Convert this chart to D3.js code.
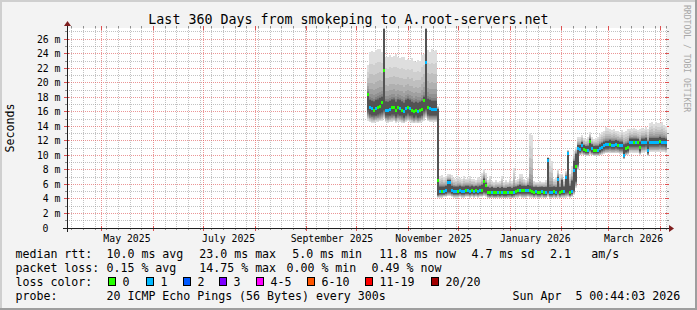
<!DOCTYPE html>
<html>
<head>
<meta charset="utf-8">
<script src="https://cdn.jsdelivr.net/npm/d3@7"></script>
<style>
  html, body { margin: 0; padding: 0; background: #f3f3f3; }
  svg { display: block; font-family: "DejaVu Sans Mono", monospace; }
  text { white-space: pre; }
</style>
</head>
<body>
<script>
// ---- data (ms), one value per 1.2 day step from 180 days before the end ----
const medRtt = [
  18.4,16.6,16.5,16.3,16.5,16.6,16.8,17.4,21.8,16.3, 16.3,16.4,16.6,16.6,16.2,16.6,16.5,16.3,16.1,16.5,
  16.7,16.5,16.3,16.1,16.3,16.1,16.2,16.4,17.6,22.9, 16.6,16.5,16.4,16.4,16.4,
  6.6,5.1,5.1,5.1,5.2, 6.4,6.4,5.2,5.1,5.1,5.1,5.2,5.1,5.1,5.2, 5.2,5.1,5.2,5.1,5.2,5.1,5.2,5.3,6.5,5.9,
  5.0,4.9,5.0,4.9,4.9,5.0,4.9,5.0,4.9,4.9, 5.0,5.0,4.9,5.0,5.1,5.2,5.3,5.2,5.2,5.2,
  5.3,5.2,5.1,5.0,5.1,5.0,5.0,5.1,5.0,5.0,
  9.4,5.0,5.0,5.1,5.0,6.8,5.0,5.1,5.1,7.0, 10.4,5.0,5.1,8.0,8.5,11.0,10.9,11.4,10.9,10.8,
  10.8,12.0,11.0,10.8,10.8,10.8,11.0,
  11.2,11.4,11.55,11.55,11.6,11.5,11.5,11.6,11.5,11.4, 11.4,10.0,11.0,11.1,11.8,11.8,11.8,11.8,11.8,11.1,
  11.8,11.8,11.9,10.7,11.9,11.9,11.9,11.9,11.9,12.0, 11.9,11.9,11.8
];
const lossCount = [
  0,1,1,0,1,0,0,0,0,1, 1,1,0,0,0,0,1,0,1,1, 0,1,0,0,0,1,0,0,0,1, 0,1,1,1,1,
  0,1,0,1,1, 1,1,1,1,1,0,1,1,1,0, 1,1,0,1,0,1,1,0,0,0, 0,0,1,0,0,1,0,1,0,0, 1,0,0,1,0,0,1,0,0,1,
  1,0,0,0,1,0,0,1,0,1,
  1,1,1,0,1,1,0,0,1,1, 1,0,1,1,0,1,1,1,0,0, 1,0,1,0,0,1,1,
  1,1,1,1,0,1,1,1,0,1, 1,1,0,0,1,1,0,1,0,0, 1,1,1,1,1,1,1,1,1,0, 1,1,1
];
const pingMin = [
  14.8,14.6,14.5,14.5,14.6,14.6,14.7,14.8,15.0,14.6, 14.5,14.6,14.6,14.7,14.5,14.6,14.6,14.5,14.4,14.6,
  14.7,14.6,14.5,14.4,14.5,14.4,14.5,14.6,14.8,15.2, 14.7,14.6,14.6,14.6,14.6,
  4.2,4.2,4.2,4.3,4.3, 4.4,4.4,4.3,4.2,4.2,4.2,4.3,4.2,4.2,4.3, 4.3,4.2,4.3,4.2,4.3,4.2,4.3,4.3,4.4,4.3,
  4.1,4.1,4.1,4.1,4.1,4.1,4.1,4.1,4.1,4.1, 4.1,4.1,4.1,4.1,4.2,4.2,4.3,4.2,4.2,4.2,
  4.3,4.2,4.2,4.1,4.2,4.1,4.1,4.2,4.1,4.1,
  4.3,4.1,4.1,4.2,4.1,4.2,4.1,4.2,4.2,4.2, 4.3,4.2,4.3,4.6,5.5,8.0,10.0,10.1,10.0,9.9,
  9.9,10.1,10.0,9.9,9.9,9.9,10.0,
  10.1,10.2,10.3,10.3,10.3,10.3,10.3,10.3,10.3,10.2, 10.2,9.5,10.0,10.1,10.4,10.4,10.4,10.4,10.4,10.1,
  10.4,10.4,10.5,9.9,10.5,10.5,10.5,10.5,10.5,10.5, 10.5,10.5,10.4
];
const pingLow = [
  16.2,15.7,15.6,15.5,15.6,15.7,15.8,16.0,16.3,15.5, 15.5,15.6,15.7,15.7,15.4,15.7,15.6,15.5,15.3,15.6,
  15.8,15.6,15.5,15.3,15.5,15.3,15.4,15.6,16.1,16.4, 15.7,15.6,15.6,15.6,15.6,
  4.6,4.7,4.7,4.7,4.8, 5.0,5.0,4.8,4.7,4.7,4.7,4.8,4.7,4.7,4.8, 4.8,4.7,4.8,4.7,4.8,4.7,4.8,4.8,5.0,4.9,
  4.6,4.5,4.6,4.5,4.5,4.6,4.5,4.6,4.5,4.5, 4.6,4.6,4.5,4.6,4.7,4.8,4.8,4.8,4.8,4.8,
  4.8,4.8,4.7,4.6,4.7,4.6,4.6,4.7,4.6,4.6,
  4.9,4.6,4.6,4.7,4.6,4.9,4.6,4.7,4.7,4.9, 4.9,4.6,4.8,5.2,6.5,8.8,10.5,10.7,10.5,10.4,
  10.4,10.8,10.5,10.4,10.4,10.4,10.5,
  10.7,10.9,11.0,11.0,11.1,11.0,11.0,11.1,11.0,10.9, 10.9,9.8,10.5,10.6,11.3,11.3,11.3,11.3,11.3,10.6,
  11.3,11.3,11.4,10.4,11.4,11.4,11.4,11.4,11.4,11.5, 11.4,11.4,11.3
];
const pingHigh = [
  18.6,17.6,17.5,17.4,17.6,17.7,17.9,18.0,27.4,17.4, 17.4,17.5,17.7,17.7,17.3,17.7,17.6,17.4,17.2,17.6,
  17.8,17.6,17.4,17.2,17.4,17.2,17.3,17.5,18.0,27.4, 17.8,17.6,17.5,17.5,17.5,
  16.4,5.7,5.7,5.7,5.8, 6.6,6.6,5.8,5.7,5.7,5.7,5.8,5.7,5.7,5.8, 5.8,5.7,5.8,5.7,5.8,5.7,5.8,5.9,6.8,6.2,
  5.6,5.5,5.6,5.5,5.5,5.6,5.5,5.6,5.5,5.5, 5.6,5.6,5.5,5.6,5.7,5.8,5.9,5.8,5.8,5.8,
  5.9,5.8,5.7,5.6,5.7,5.6,5.6,5.7,5.6,5.6,
  9.6,5.6,5.6,5.7,5.6,7.0,5.6,6.6,5.7,7.2, 10.5,5.8,6.5,9.2,10.2,11.4,11.4,11.8,11.4,11.3,
  11.3,12.3,11.5,11.3,11.3,11.3,11.5,
  11.7,11.9,12.0,12.0,12.1,12.0,12.0,12.1,12.0,11.9, 11.9,11.5,11.6,11.7,12.3,12.3,12.3,12.3,12.3,11.9,
  12.3,12.3,12.4,11.9,12.4,12.4,12.4,12.4,12.4,12.5, 12.4,12.4,12.3
];
const pingMax = [
  22.5,24.3,24.4,24.2,24.5,24.6,24.6,24.3,27.6,23.6, 23.5,23.8,23.6,23.7,23.9,23.6,23.4,23.6,23.5,23.2,
  23.3,23.1,23.4,23.0,22.9,23.1,23.0,23.8,24.0,27.6, 24.5,24.3,24.6,24.4,24.5,
  16.8,7.2,7.3,7.0,7.2, 7.4,7.5,7.3,6.9,6.8,7.1,6.9,6.7,7.1,6.8, 6.9,7.1,6.7,6.8,6.6,7.0,6.9,7.6,8.1,7.6,
  6.6,7.1,6.5,6.4,6.6,6.4,6.5,7.2,6.4,6.6, 6.4,6.7,6.5,8.2,6.6,6.7,7.5,7.4,6.8,6.6,
  7.0,13.1,12.8,6.5,6.4,6.4,6.5,6.3,6.4,6.6,
  9.8,9.6,9.2,6.8,7.0,8.1,7.4,7.5,6.8,7.8, 10.8,7.5,8.5,10.6,11.2,12.5,12.6,12.8,12.4,12.2,
  12.6,13.2,12.5,12.3,12.4,12.6,12.9,
  13.2,13.4,13.9,13.8,13.6,13.5,13.7,13.4,13.3,13.2, 13.5,13.2,13.4,13.6,13.7,13.6,13.8,13.7,13.5,13.6,
  13.8,13.7,13.9,13.7,14.5,14.6,14.3,14.6,14.5,14.4, 14.6,14.2,14.0
];

const yTicks = [0, 2, 4, 6, 8, 10, 12, 14, 16, 18, 20, 22, 24, 26];
const xLabels = ["May 2025", "July 2025", "September 2025", "November 2025", "January 2026", "March 2026"];
const lossNames = ["0", "1", "2", "3", "4-5", "6-10", "11-19", "20/20"];
const lossMax = [0, 1, 2, 3, 5, 10, 19, 20];
const lossColors = ["#26ff00", "#00b8ff", "#0059ff", "#7e00ff", "#ff00ff", "#ff5500", "#ff0000", "#a10000"];
const rttStats = ["10.0 ms avg", "23.0 ms max", "5.0 ms min", "11.8 ms now", "4.7 ms sd", "2.1", "am/s"];
const lossStats = ["0.15 % avg", "14.75 % max", "0.00 % min", "0.49 % now"];
const probeText = "20 ICMP Echo Pings (56 Bytes) every 300s";
const stampText = "Sun Apr  5 00:44:03 2026";

// ---- layout ----
const W = 697, H = 310;
const plotL = 67, plotR = 667, plotT = 28, plotB = 228;
const DAY = 864e5;
const end = new Date(2026, 3, 5, 0, 44, 3);
const start = new Date(+end - 360 * DAY);
const dataStart = new Date(+end - 180 * DAY);
const stepMs = 1.2 * DAY;

const x = d3.scaleTime().domain([start, end]).range([plotL, plotR]);
const y = d3.scaleLinear().domain([0, 27.55]).range([plotB, plotT]);
const px = v => Math.floor(v) + 0.5;

const svg = d3.select("body").append("svg").attr("width", W).attr("height", H);

svg.append("rect").attr("width", W).attr("height", H).attr("fill", "#f3f3f3");
svg.append("path").attr("d", `M0,0H${W}V2H2V${H}H0Z`).attr("fill", "#cfcfcf");
svg.append("path").attr("d", `M${W},0V${H}H0V${H - 2}H${W - 2}V0Z`).attr("fill", "#9e9e9e");
svg.append("rect").attr("x", plotL).attr("y", plotT)
  .attr("width", plotR - plotL).attr("height", plotB - plotT).attr("fill", "#fff");

// ---- grid ----
const grid = svg.append("g").attr("shape-rendering", "crispEdges");
const minorY = d3.range(1, 28, 2);
const months = d3.timeMonth.range(start, end);
const weeks = d3.timeSunday.range(start, end).filter(d => +d3.timeMonth.floor(d) !== +d);

grid.selectAll(".hmin").data(minorY).join("line")
  .attr("x1", plotL).attr("x2", plotR)
  .attr("y1", d => px(y(d))).attr("y2", d => px(y(d)))
  .attr("stroke", "#8f8f8f").attr("stroke-opacity", 0.55).attr("stroke-dasharray", "1,1");
grid.selectAll(".vmin").data(weeks).join("line")
  .attr("x1", d => px(x(d))).attr("x2", d => px(x(d)))
  .attr("y1", plotT).attr("y2", plotB)
  .attr("stroke", "#8f8f8f").attr("stroke-opacity", 0.55).attr("stroke-dasharray", "1,1");
grid.selectAll(".hmaj").data(yTicks.slice(1)).join("line")
  .attr("x1", plotL).attr("x2", plotR)
  .attr("y1", d => px(y(d))).attr("y2", d => px(y(d)))
  .attr("stroke", "#de5050").attr("stroke-opacity", 0.6).attr("stroke-dasharray", "1,1");
grid.selectAll(".vmaj").data(months).join("line")
  .attr("x1", d => px(x(d))).attr("x2", d => px(x(d)))
  .attr("y1", plotT).attr("y2", plotB)
  .attr("stroke", "#de5050").attr("stroke-opacity", 0.6).attr("stroke-dasharray", "1,1");

// ticks outside the plot
grid.selectAll(".tmin").data(minorY).join("path")
  .attr("d", d => `M${plotL - 2},${px(y(d))}H${plotL}M${plotR},${px(y(d))}H${plotR + 2}`)
  .attr("stroke", "#8f8f8f");
grid.selectAll(".tmaj").data(yTicks.slice(1)).join("path")
  .attr("d", d => `M${plotL - 3},${px(y(d))}H${plotL + 2}M${plotR - 2},${px(y(d))}H${plotR + 2}`)
  .attr("stroke", "#de5050");
grid.selectAll(".twk").data(weeks).join("path")
  .attr("d", d => `M${px(x(d))},${plotB}V${plotB + 2}M${px(x(d))},${plotT - 2}V${plotT}`)
  .attr("stroke", "#8f8f8f");
grid.selectAll(".tmo").data(months).join("path")
  .attr("d", d => `M${px(x(d))},${plotB - 2}V${plotB + 3}M${px(x(d))},${plotT - 2}V${plotT + 2}`)
  .attr("stroke", "#de5050");

// ---- smoke + median ----
const pts = medRtt.map((m, i) => ({
  x0: Math.round(x(new Date(+dataStart + i * stepMs))),
  x1: Math.round(x(new Date(+dataStart + (i + 1) * stepMs))),
  med: m, loss: lossCount[i],
  lo: pingMin[i], q1: pingLow[i], q3: pingHigh[i], hi: pingMax[i]
}));

// smoke: light outer bands from min/max down to the dark core between pingLow and pingHigh
const bands = [];
pts.forEach(p => {
  for (let j = 0; j < 9; j++) {
    const t = j / 9;
    bands.push({ p, j,
      top: p.q3 + (p.hi - p.q3) * Math.pow(1 - t, 2.5),
      bot: p.lo + (p.q1 - p.lo) * t });
  }
  bands.push({ p, j: 9, top: p.q3, bot: p.q1 });
});
const shade = j => { const g = Math.round(222 - j * 15.5); return `rgb(${g},${g},${g})`; };

svg.append("g").attr("shape-rendering", "crispEdges")
  .selectAll("rect").data(bands).join("rect")
  .attr("x", d => d.p.x0).attr("width", d => d.p.x1 - d.p.x0)
  .attr("y", d => y(d.top)).attr("height", d => Math.max(0, y(d.bot) - y(d.top)))
  .attr("fill", d => shade(d.j));

const lossIndex = n => lossMax.findIndex(m => n <= m);
svg.append("g").attr("shape-rendering", "crispEdges")
  .selectAll("rect").data(pts).join("rect")
  .attr("x", d => d.x0).attr("width", d => d.x1 - d.x0)
  .attr("y", d => Math.round(y(d.med)) - 1).attr("height", 3)
  .attr("fill", d => lossColors[lossIndex(d.loss)]);

// ---- axes ----
const axis = svg.append("g").attr("shape-rendering", "crispEdges");
axis.append("path").attr("d", `M${plotL - 4},${plotB + 0.5}H${plotR + 4}`).attr("stroke", "#1f1f1f");
axis.append("path").attr("d", `M${plotL + 0.5},${plotB + 4}V${plotT - 4}`).attr("stroke", "#1f1f1f");
svg.append("path").attr("d", `M${plotR + 2},${plotB - 3}L${plotR + 2},${plotB + 4}L${plotR + 7},${plotB + 0.5}Z`).attr("fill", "#7f1f1f");
svg.append("path").attr("d", `M${plotL - 3},${plotT - 2}L${plotL + 4},${plotT - 2}L${plotL + 0.5},${plotT - 7}Z`).attr("fill", "#7f1f1f");

svg.selectAll(".ylab").data(yTicks).join("text")
  .attr("x", d => d === 0 ? 48.5 : 60.5)
  .attr("y", d => y(d) + 3.5)
  .attr("text-anchor", "end").attr("font-size", 9.8)
  .text(d => d === 0 ? "0" : `${d} m`);

const parseLabel = d3.timeParse("%B %Y");
svg.selectAll(".xlab").data(xLabels).join("text")
  .attr("x", d => x(new Date(+parseLabel(d) + 15 * DAY)))
  .attr("y", 242).attr("text-anchor", "middle").attr("font-size", 9.8)
  .text(d => d);

// ---- titles ----
svg.append("text").attr("x", W / 2).attr("y", 23.5).attr("text-anchor", "middle")
  .attr("font-size", 13.3).text("Last 360 Days from smokeping to A.root-servers.net");
svg.append("text").attr("transform", "translate(13.5,128) rotate(-90)")
  .attr("text-anchor", "middle").attr("font-size", 11.6).text("Seconds");
svg.append("text").attr("transform", "translate(684,5) rotate(90)")
  .attr("font-size", 8.1).attr("fill", "#a8a8a8").text("RRDTOOL / TOBI OETIKER");

// ---- legend ----
const fs = 11.6, rowY = [258.3, 272.1, 285.9, 299.7];
const leg = svg.append("g").attr("font-size", fs);
const put = (t, xx, row) => leg.append("text").attr("x", xx).attr("y", rowY[row]).text(t);

put("median rtt:", 15.5, 0);
[106.5, 199.3, 292.3, 379.3, 471.6, 550, 591.3].forEach((xx, i) => put(rttStats[i], xx, 0));
put("packet loss:", 15.5, 1);
[106.5, 199.3, 286.5, 371.6].forEach((xx, i) => put(lossStats[i], xx, 1));
put("loss color:", 15.5, 2);
const boxX = [108, 145.5, 182.5, 219, 256, 306.5, 365, 430.5];
boxX.forEach((bx, i) => {
  leg.append("rect").attr("x", Math.round(bx) + 0.5).attr("y", 277.5).attr("width", 7).attr("height", 8)
    .attr("fill", lossColors[i]).attr("stroke", "#000");
  put(lossNames[i], Math.round(bx) + 14.5, 2);
});
put("probe:", 15.5, 3);
put(probeText, 106.5, 3);
put(stampText, 512.6, 3);
</script>
</body>
</html>
